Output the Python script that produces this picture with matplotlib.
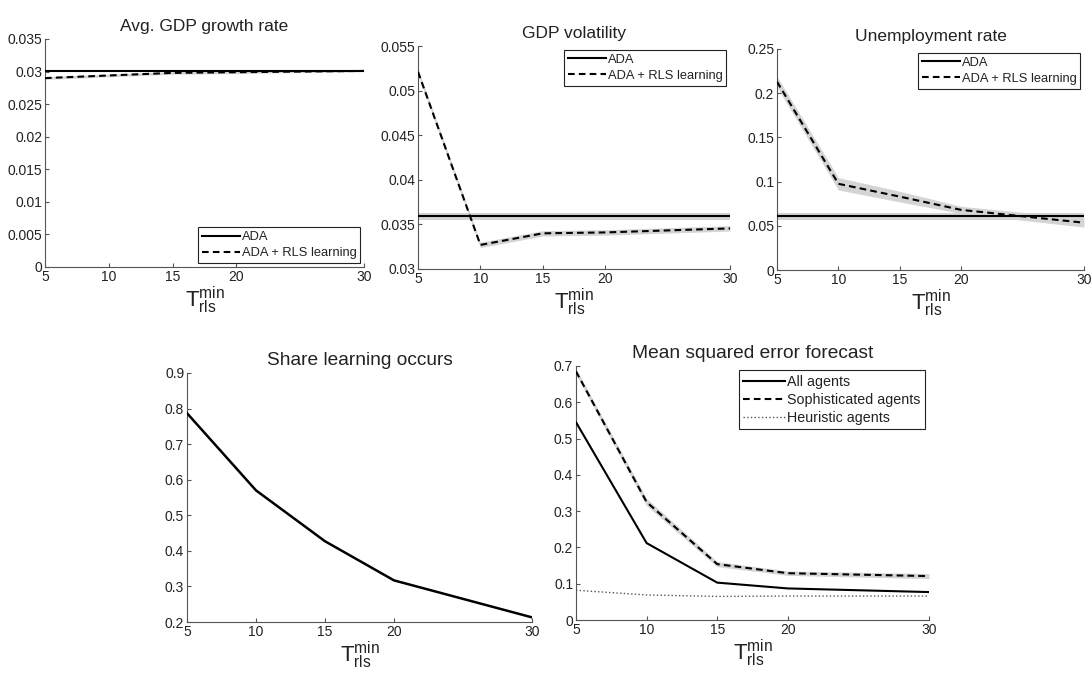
import numpy as np
import matplotlib
matplotlib.use("Agg")
import matplotlib.pyplot as plt

plt.rcParams['font.family'] = ['Liberation Sans', 'DejaVu Sans']
plt.rcParams['mathtext.fontset'] = 'custom'
plt.rcParams['mathtext.rm'] = 'Liberation Sans'
plt.rcParams['mathtext.it'] = 'Liberation Sans'

# minimum RLS learning window
t_min = [5, 10, 15, 20, 30]

# avg GDP growth
growth_ada = [0.0301, 0.0301, 0.0301, 0.0301, 0.0301]
growth_rls = [0.0290, 0.0294, 0.0298, 0.0299, 0.0301]
growth_ada_band = [0.0001, 0.0001, 0.0001, 0.0001, 0.0001]
growth_rls_band = [0.0002, 0.0002, 0.0002, 0.0002, 0.0001]

# GDP volatility
vol_ada = [0.0359, 0.0359, 0.0359, 0.0359, 0.0359]
vol_rls = [0.0521, 0.0327, 0.0340, 0.0341, 0.03455]
vol_ada_band = [0.0004, 0.0004, 0.0004, 0.0004, 0.0004]
vol_rls_band = [0.0003, 0.0003, 0.0003, 0.0003, 0.0003]

# unemployment
unemp_ada = [0.0608, 0.0608, 0.0608, 0.0608, 0.0608]
unemp_rls = [0.213, 0.0975, 0.083, 0.068, 0.0535]
unemp_ada_band = [0.004, 0.004, 0.004, 0.004, 0.004]
unemp_rls_band = [0.006, 0.007, 0.006, 0.004, 0.005]

# share of runs in which learning occurs
share_learning = [0.787, 0.570, 0.427, 0.317, 0.213]

# forecast MSE
mse_all = [0.545, 0.212, 0.103, 0.087, 0.077]
mse_soph = [0.685, 0.325, 0.154, 0.129, 0.121]
mse_heur = [0.082, 0.069, 0.065, 0.066, 0.066]
mse_soph_band = [0.008, 0.010, 0.007, 0.006, 0.007]

TXT = '#222222'
AX = '#555555'
BAND = '#d4d4d4'
DASH = (0, (3.2, 2.0))
XLAB = r'$\mathrm{T}_{\mathrm{rls}}^{\mathrm{min}}$'

W, H = 1091, 673
fig = plt.figure(figsize=(W / 100, H / 100), dpi=100)


def make_ax(l, r, t, b):
    return fig.add_axes([l / W, 1 - b / H, (r - l) / W, (b - t) / H])


def style(ax, title, ylim, yticks, ylabels, title_size=12.5):
    ax.set_xlim(5, 30)
    ax.set_ylim(*ylim)
    ax.set_xticks(t_min)
    ax.set_yticks(yticks)
    ax.set_yticklabels(ylabels)
    for s in ['top', 'right']:
        ax.spines[s].set_visible(False)
    for s in ['left', 'bottom']:
        ax.spines[s].set_color(AX)
        ax.spines[s].set_linewidth(0.8)
    ax.tick_params(direction='in', length=3, width=0.8, color=AX,
                   labelsize=10, labelcolor=TXT, pad=2)
    ax.set_title(title, fontsize=title_size, color=TXT, pad=6)
    ax.set_xlabel(XLAB, fontsize=16, color=TXT, labelpad=1)


def band(ax, y, b):
    y = np.array(y)
    b = np.array(b)
    ax.fill_between(t_min, y - b, y + b, color=BAND, lw=0, zorder=1)


def leg(ax, loc, size=9.3):
    lg = ax.legend(loc=loc, fontsize=size, handlelength=2.9, handletextpad=0.15,
                   borderpad=0.3, labelspacing=0.3, fancybox=False,
                   framealpha=1, borderaxespad=0.3)
    lg.get_frame().set_edgecolor('#222222')
    lg.get_frame().set_linewidth(0.8)
    for t in lg.get_texts():
        t.set_color(TXT)


# top row
ax1 = make_ax(45, 364, 39, 267)
band(ax1, growth_ada, growth_ada_band)
band(ax1, growth_rls, growth_rls_band)
ax1.plot(t_min, growth_ada, color='black', lw=1.5, label='ADA', zorder=3)
ax1.plot(t_min, growth_rls, color='black', lw=1.5, ls=DASH, label='ADA + RLS learning', zorder=3)
style(ax1, 'Avg. GDP growth rate', (0, 0.035),
      [0, 0.005, 0.01, 0.015, 0.02, 0.025, 0.03, 0.035],
      ['0', '0.005', '0.01', '0.015', '0.02', '0.025', '0.03', '0.035'])
leg(ax1, 'lower right')

ax2 = make_ax(418, 730, 46, 269)
band(ax2, vol_ada, vol_ada_band)
band(ax2, vol_rls, vol_rls_band)
ax2.plot(t_min, vol_ada, color='black', lw=1.5, label='ADA', zorder=3)
ax2.plot(t_min, vol_rls, color='black', lw=1.5, ls=DASH, label='ADA + RLS learning', zorder=3)
style(ax2, 'GDP volatility', (0.03, 0.055),
      [0.03, 0.035, 0.04, 0.045, 0.05, 0.055],
      ['0.03', '0.035', '0.04', '0.045', '0.05', '0.055'])
leg(ax2, 'upper right')

ax3 = make_ax(777, 1084, 49, 270)
band(ax3, unemp_ada, unemp_ada_band)
band(ax3, unemp_rls, unemp_rls_band)
ax3.plot(t_min, unemp_ada, color='black', lw=1.5, label='ADA', zorder=3)
ax3.plot(t_min, unemp_rls, color='black', lw=1.5, ls=DASH, label='ADA + RLS learning', zorder=3)
style(ax3, 'Unemployment rate', (0, 0.25),
      [0, 0.05, 0.1, 0.15, 0.2, 0.25],
      ['0', '0.05', '0.1', '0.15', '0.2', '0.25'])
leg(ax3, 'upper right')

# bottom row
ax4 = make_ax(187, 532, 373, 622)
ax4.plot(t_min, share_learning, color='black', lw=1.8, zorder=3)
style(ax4, 'Share learning occurs', (0.2, 0.9),
      [0.2, 0.3, 0.4, 0.5, 0.6, 0.7, 0.8, 0.9],
      ['0.2', '0.3', '0.4', '0.5', '0.6', '0.7', '0.8', '0.9'], title_size=13.8)

ax5 = make_ax(576, 929, 366, 620)
band(ax5, mse_soph, mse_soph_band)
ax5.plot(t_min, mse_all, color='black', lw=1.5, label='All agents', zorder=3)
ax5.plot(t_min, mse_soph, color='black', lw=1.5, ls=DASH, label='Sophisticated agents', zorder=3)
ax5.plot(t_min, mse_heur, color='#555555', lw=1.0, ls=':', label='Heuristic agents', zorder=3)
style(ax5, 'Mean squared error forecast', (0, 0.7),
      [0, 0.1, 0.2, 0.3, 0.4, 0.5, 0.6, 0.7],
      ['0', '0.1', '0.2', '0.3', '0.4', '0.5', '0.6', '0.7'], title_size=13.8)
leg(ax5, 'upper right', size=10.3)

fig.savefig('out.png', dpi=100)
